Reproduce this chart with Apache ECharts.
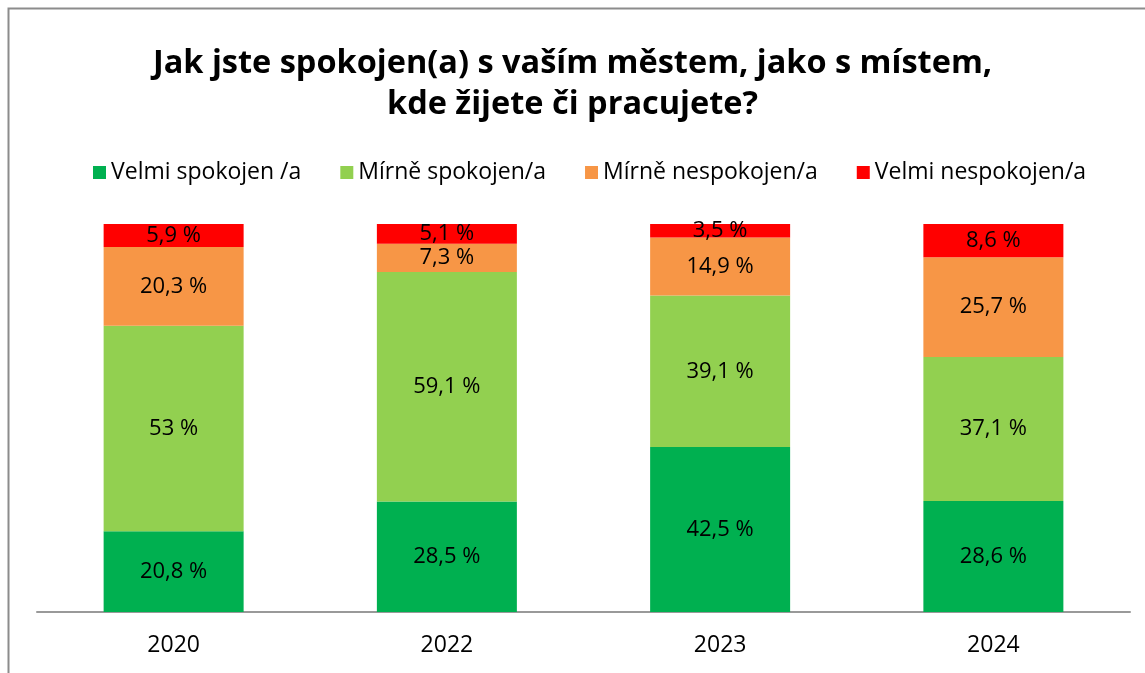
<!DOCTYPE html>
<html>
<head>
<meta charset="utf-8">
<script src="https://cdn.jsdelivr.net/npm/echarts@6/dist/echarts.min.js"></script>
<style>
  html, body { margin: 0; padding: 0; background: #fff; }
  #chart { width: 1145px; height: 673px; }
</style>
</head>
<body>
<div id="chart"></div>
<script>
var years = ['2020', '2022', '2023', '2024'];
var seriesNames = ['Velmi spokojen /a', 'Mírně spokojen/a', 'Mírně nespokojen/a', 'Velmi nespokojen/a'];
var velmiSpokojen = [20.8, 28.5, 42.5, 28.6];
var mirneSpokojen = [53, 59.1, 39.1, 37.1];
var mirneNespokojen = [20.3, 7.3, 14.9, 25.7];
var velmiNespokojen = [5.9, 5.1, 3.5, 8.6];
var colors = ['#00B050', '#92D050', '#F79646', '#FF0000'];

var font = '"Open Sans", "Noto Sans", sans-serif';

function makeSeries(name, data, color) {
    return {
        name: name,
        type: 'bar',
        stack: 'total',
        data: data,
        barWidth: 140,
        itemStyle: { color: color },
        label: {
            show: true,
            position: 'inside',
            color: '#000',
            fontSize: 22,
            fontFamily: font,
            formatter: function (p) {
                return String(p.value).replace('.', ',') + ' %';
            }
        }
    };
}

var dom = document.getElementById('chart');
var myChart = echarts.init(dom);
var option = {
    backgroundColor: '#fff',
    animation: false,
    graphic: [{
        type: 'rect',
        shape: { x: 8.5, y: 8.5, width: 1200, height: 700 },
        style: { fill: 'none', stroke: '#8c8c8c', lineWidth: 2 },
        z: -1
    }],
    title: {
        text: 'Jak jste spokojen(a) s vaším městem, jako s místem,\nkde žijete či pracujete?',
        left: 'center',
        top: 38,
        textStyle: {
            fontFamily: font,
            fontSize: 32.5,
            fontWeight: 'bold',
            color: '#000',
            lineHeight: 41
        }
    },
    legend: {
        data: seriesNames,
        top: 156,
        left: 88,
        icon: 'rect',
        itemWidth: 13,
        itemHeight: 13,
        itemGap: 39,
        textStyle: { fontFamily: font, fontSize: 23, color: '#000' }
    },
    grid: { left: 37, right: 15, top: 224, bottom: 61 },
    xAxis: {
        type: 'category',
        data: years,
        axisLine: { lineStyle: { color: '#999', width: 2 } },
        axisTick: { show: false },
        axisLabel: { fontFamily: font, fontSize: 23, color: '#000', margin: 22 }
    },
    yAxis: {
        type: 'value',
        min: 0,
        max: 100,
        show: false
    },
    series: [
        makeSeries(seriesNames[0], velmiSpokojen, colors[0]),
        makeSeries(seriesNames[1], mirneSpokojen, colors[1]),
        makeSeries(seriesNames[2], mirneNespokojen, colors[2]),
        makeSeries(seriesNames[3], velmiNespokojen, colors[3])
    ]
};
myChart.setOption(option, true);
</script>
</body>
</html>
